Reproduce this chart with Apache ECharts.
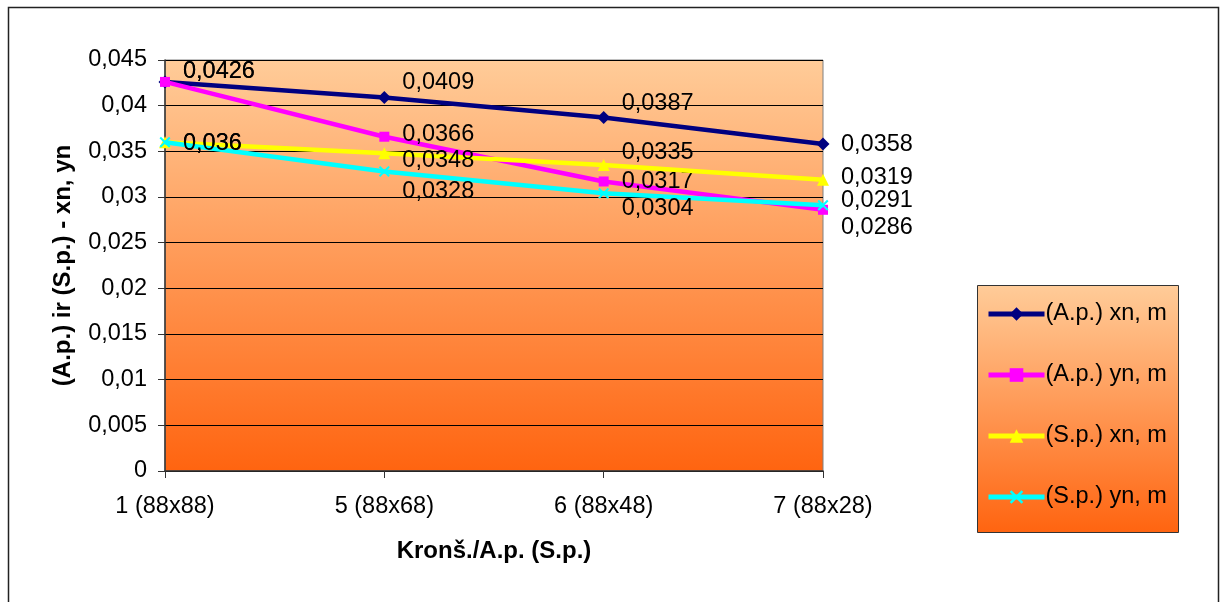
<!DOCTYPE html>
<html>
<head>
<meta charset="utf-8">
<script src="https://cdn.jsdelivr.net/npm/echarts@6/dist/echarts.min.js"></script>
<style>
html,body{margin:0;padding:0;background:#fff;}
#c{width:1225px;height:602px;}
</style>
</head>
<body>
<div id="c"></div>
<script>
// ---- data ----
const categories = ['1 (88x88)', '5 (88x68)', '6 (88x48)', '7 (88x28)'];
const seriesNames = ['(A.p.) xn, m', '(A.p.) yn, m', '(S.p.) xn, m', '(S.p.) yn, m'];
const apXn = [0.0426, 0.0409, 0.0387, 0.0358];
const apYn = [0.0426, 0.0366, 0.0317, 0.0286];
const spXn = [0.036, 0.0348, 0.0335, 0.0319];
const spYn = [0.036, 0.0328, 0.0304, 0.0291];
const yMin = 0, yMax = 0.045, yStep = 0.005;
const xAxisName = 'Kronš./A.p. (S.p.)';
const yAxisName = '(A.p.) ir (S.p.) - xn, yn';

// ---- styling ----
const FONT = "'Liberation Sans', Arial, sans-serif";
const FS = 23.5;
const colors = ['#000080', '#FF00FF', '#FFFF00', '#00FFFF'];
const crossPath = 'path://M0,1.3L1.3,0L5,3.7L8.7,0L10,1.3L6.3,5L10,8.7L8.7,10L5,6.3L1.3,10L0,8.7L3.7,5Z';
const symbols = ['diamond', 'rect', 'triangle', crossPath];
const symbolSizes = [13, 10, 12, 11];
// vertical label offsets (px) per point, to mimic hand-placed labels
const labelDy = [
  [-10, -15, -14, 0],
  [-10, -2, 0, 18],
  [1, 7, -13, -2],
  [1, 20, 15, -5]
];
const fmt = v => String(parseFloat(Number(v).toFixed(4))).replace('.', ',');
const bgGrad = {
  type: 'linear', x: 0, y: 0, x2: 0, y2: 1,
  colorStops: [{offset: 0, color: '#FFCC99'}, {offset: 1, color: '#FF6410'}]
};

const allData = [apXn, apYn, spXn, spYn];
const series = allData.map((arr, si) => ({
  name: seriesNames[si],
  type: 'line',
  data: arr.map((v, i) => ({
    value: v,
    label: {offset: [0, labelDy[si][i]]}
  })),
  symbol: symbols[si],
  symbolSize: symbolSizes[si],
  showAllSymbol: true,
  z: 2 + si,
  lineStyle: {color: colors[si], width: 4.5},
  itemStyle: {color: colors[si], borderWidth: 0},
  label: {
    show: true,
    position: 'right',
    distance: 18 - symbolSizes[si] / 2,
    formatter: p => fmt(p.value),
    color: '#000',
    fontFamily: FONT,
    fontSize: FS
  },
  emphasis: {disabled: true},
  animation: false
}));

const chart = echarts.init(document.getElementById('c'), null, {renderer: 'canvas'});
chart.setOption({
  animation: false,
  backgroundColor: '#fff',
  textStyle: {fontFamily: FONT},
  grid: {
    left: 165, top: 60, right: 402, bottom: 131,
    show: true,
    backgroundColor: bgGrad,
    borderColor: '#808080',
    borderWidth: 1
  },
  graphic: [
    {type: 'rect', z: -1, shape: {x: 8.5, y: 7.5, width: 1210, height: 620},
     style: {fill: 'none', stroke: '#222', lineWidth: 1.5}},
    {type: 'rect', z: 0, shape: {x: 977.5, y: 285.5, width: 201, height: 247},
     style: {fill: bgGrad, stroke: '#333', lineWidth: 1}}
  ],
  legend: {
    orient: 'vertical',
    left: 986, top: 302,
    itemWidth: 56, itemHeight: 17,
    itemGap: 37,
    padding: 0,
    z: 10,
    data: seriesNames,
    lineStyle: {width: 5},
    textStyle: {fontFamily: FONT, fontSize: FS, color: '#000', padding: [0, 0, 0, -4]}
  },
  xAxis: {
    type: 'category',
    data: categories,
    boundaryGap: false,
    axisLine: {lineStyle: {color: '#333', width: 1.5}},
    axisTick: {show: true, length: 7, alignWithLabel: true, lineStyle: {color: '#333'}},
    axisLabel: {fontFamily: FONT, fontSize: FS, color: '#000', margin: 24},
    splitLine: {show: false},
    name: xAxisName,
    nameLocation: 'middle',
    nameGap: 68,
    nameTextStyle: {fontFamily: FONT, fontSize: 24, fontWeight: 'bold', color: '#000'}
  },
  yAxis: {
    type: 'value',
    min: yMin, max: yMax, interval: yStep,
    axisLine: {show: true, lineStyle: {color: '#333', width: 1.5}},
    axisTick: {show: true, length: 7, lineStyle: {color: '#333'}},
    axisLabel: {fontFamily: FONT, fontSize: FS, color: '#000', margin: 18, formatter: fmt},
    splitLine: {show: true, lineStyle: {color: '#000', width: 1}},
    name: yAxisName,
    nameLocation: 'middle',
    nameGap: 90,
    nameRotate: 90,
    nameTextStyle: {fontFamily: FONT, fontSize: 24, fontWeight: 'bold', color: '#000'}
  },
  series: series
});
</script>
</body>
</html>
